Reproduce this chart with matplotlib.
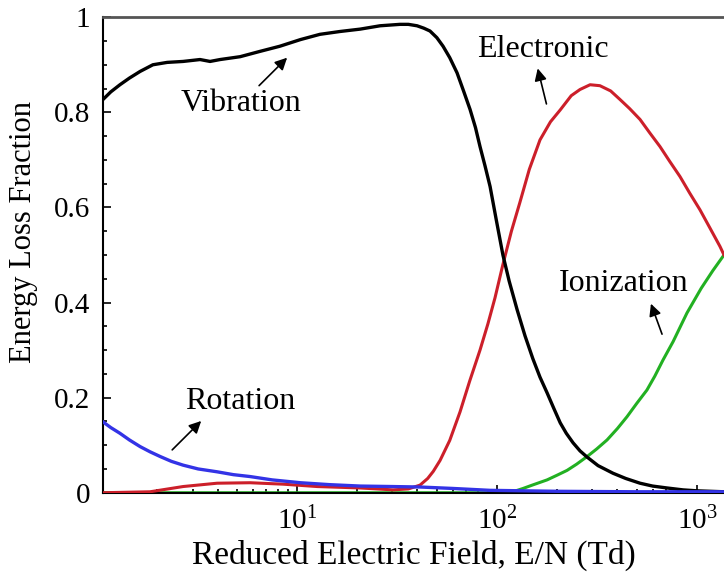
import matplotlib
matplotlib.use("Agg")
import matplotlib.pyplot as plt
from matplotlib.ticker import MultipleLocator, LogLocator, NullFormatter

plt.rcParams['font.family'] = ['Liberation Serif', 'DejaVu Serif']
plt.rcParams['mathtext.fontset'] = 'custom'
plt.rcParams['mathtext.rm'] = 'Liberation Serif'

# values (E/N in Td, energy loss fraction)
vib_en = [1.07, 1.17, 1.30, 1.45, 1.64, 1.90, 2.24, 2.69, 3.27, 3.67, 4.12, 5.19, 6.5, 8.2,
          10.4, 13.0, 16.4, 20.7, 26, 32.7, 36, 39.8, 43, 46.2, 50, 53.7, 58, 63.1, 68, 73.3,
          78, 82.2, 87, 92.3, 99, 107, 115, 126, 138, 151, 164, 178, 192, 207, 222, 240,
          260, 282, 320, 380, 440, 519, 600, 708, 850, 1000, 1365]
vib = [0.827, 0.843, 0.858, 0.872, 0.886, 0.900, 0.905, 0.907, 0.911, 0.907, 0.911, 0.917, 0.928, 0.939,
       0.953, 0.964, 0.970, 0.975, 0.982, 0.985, 0.985, 0.982, 0.977, 0.971, 0.957, 0.939, 0.915, 0.883, 0.845, 0.806,
       0.768, 0.728, 0.688, 0.644, 0.575, 0.500, 0.445, 0.385, 0.330, 0.282, 0.243, 0.210, 0.178, 0.147, 0.125, 0.105,
       0.088, 0.075, 0.057, 0.041, 0.030, 0.020, 0.014, 0.010, 0.006, 0.004, 0.002]

ele_en = [1.07, 1.84, 2.69, 3.98, 5.82, 8.5, 12.6, 20.7, 30.2, 36, 41.2, 45, 48, 51.9, 58, 65.3, 73,
          82.2, 90, 97.7, 107, 118, 130, 145, 164, 185, 207, 235, 260, 292, 327, 370, 412, 460,
          519, 580, 653, 730, 822, 920, 1035, 1160, 1303, 1365]
ele = [0.0, 0.002, 0.013, 0.020, 0.021, 0.018, 0.013, 0.010, 0.006, 0.008, 0.016, 0.030, 0.045, 0.068, 0.110, 0.170, 0.235,
       0.300, 0.355, 0.410, 0.480, 0.550, 0.610, 0.680, 0.742, 0.780, 0.805, 0.835, 0.848, 0.858, 0.856, 0.845, 0.827, 0.808,
       0.785, 0.757, 0.728, 0.697, 0.665, 0.630, 0.595, 0.557, 0.518, 0.500]

ion_en = [1.07, 92, 120, 135, 150, 178, 200, 224, 250, 282, 315, 355, 400, 447, 500, 562, 615, 676,
          760, 891, 1050, 1200, 1365]
ion = [0.0, 0.0, 0.002, 0.009, 0.016, 0.027, 0.037, 0.047, 0.060, 0.076, 0.092, 0.111, 0.135, 0.160, 0.188, 0.216,
       0.245, 0.279, 0.318, 0.378, 0.430, 0.467, 0.500]

rot_en = [1.07, 1.17, 1.30, 1.45, 1.64, 1.84, 2.07, 2.35, 2.69, 3.2, 3.98, 4.8, 5.82, 7.5, 10.4, 14.5,
          20.7, 30, 41.2, 60, 92.3, 200, 500, 1365]
rot = [0.149, 0.137, 0.125, 0.111, 0.097, 0.086, 0.076, 0.066, 0.058, 0.050, 0.044, 0.038, 0.034, 0.027, 0.021, 0.017,
       0.014, 0.013, 0.012, 0.009, 0.005, 0.003, 0.002, 0.002]

fig = plt.figure(figsize=(7.24, 5.74), dpi=100)
ax = fig.add_axes([0.1423, 0.1416, 0.8577, 0.8284])

ax.plot(ion_en, ion, color='#22b022', lw=2.2, zorder=2)
ax.plot(ele_en, ele, color='#cc1f2a', lw=2.2, zorder=3)
ax.plot(vib_en, vib, color='black', lw=2.4, zorder=4)
ax.plot(rot_en, rot, color='#3333e6', lw=2.4, zorder=5)

ax.set_xscale('log')
ax.set_xlim(1.07, 1365)
ax.set_ylim(0, 1)

ax.set_xticks([10, 100, 1000])
ax.set_xticklabels([r'$\mathregular{10^{1}}$', r'$\mathregular{10^{2}}$', r'$\mathregular{10^{3}}$'])
ax.xaxis.set_minor_locator(LogLocator(base=10, subs=range(2, 10)))
ax.xaxis.set_minor_formatter(NullFormatter())
ax.set_yticks([0, 0.2, 0.4, 0.6, 0.8, 1.0])
ax.set_yticklabels(['0', '0.2', '0.4', '0.6', '0.8', '1'])
ax.yaxis.set_minor_locator(MultipleLocator(0.05))

ax.tick_params(which='both', direction='in', labelsize=21, width=1.2)
ax.tick_params(which='major', length=6)
ax.tick_params(which='minor', length=3)
ax.tick_params(axis='y', pad=9)
ax.tick_params(axis='x', pad=10)

ax.spines['right'].set_visible(False)
ax.spines['top'].set_color('#555555')
ax.spines['top'].set_linewidth(2)
ax.spines['left'].set_linewidth(1.5)
ax.spines['bottom'].set_linewidth(1.5)

ax.set_xlabel('Reduced Electric Field, E/N (Td)', fontsize=24, labelpad=3)
ax.set_ylabel('Energy Loss Fraction', fontsize=22)
ax.yaxis.set_label_coords(-0.105, 0.549)

arrow = dict(arrowstyle='-|>', color='black', lw=1.2, mutation_scale=18)
ax.annotate('', xy=(9.12, 0.919), xytext=(6.31, 0.852), arrowprops=arrow)
ax.text(5.25, 0.818, 'Vibration', fontsize=23, ha='center', va='center')
ax.annotate('', xy=(158.5, 0.898), xytext=(178, 0.812), arrowprops=arrow)
ax.text(170, 0.932, 'Electronic', fontsize=23, ha='center', va='center')
ax.annotate('', xy=(582, 0.403), xytext=(676, 0.328), arrowprops=arrow)
ax.text(431, 0.441, 'Ionization', fontsize=23, ha='center', va='center')
ax.annotate('', xy=(3.39, 0.155), xytext=(2.32, 0.086), arrowprops=arrow)
ax.text(5.19, 0.191, 'Rotation', fontsize=23, ha='center', va='center')

fig.savefig('out.png', dpi=100)
